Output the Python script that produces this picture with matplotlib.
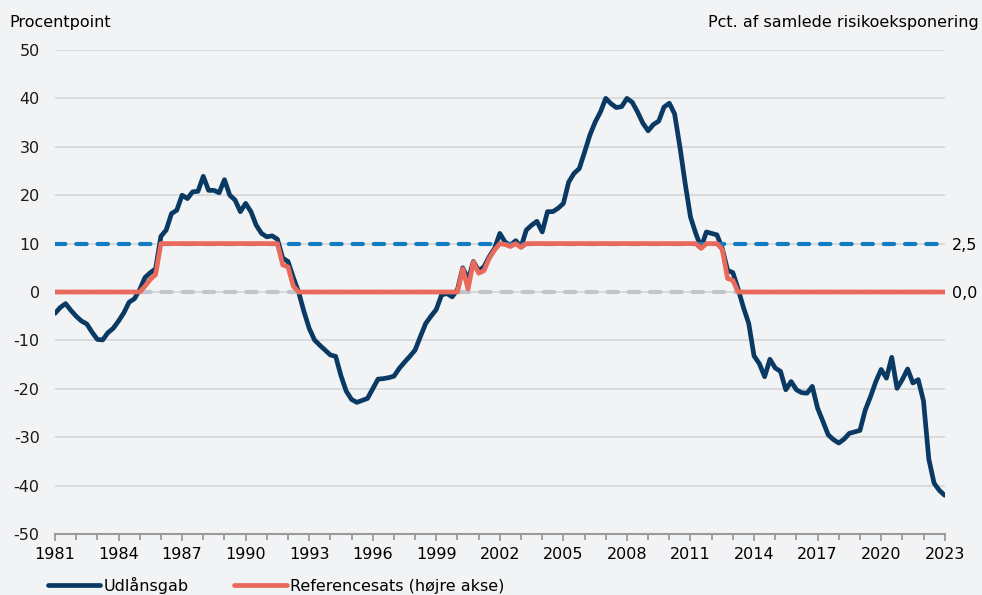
import numpy as np
import matplotlib
matplotlib.use("Agg")
import matplotlib.pyplot as plt
from matplotlib.ticker import MultipleLocator

# Udlånsgab, quarterly 1981Q1 - 2023Q1 (procentpoint)
gap = [
    -4.4, -3.2, -2.4, -3.8,   -5.0, -6.0, -6.6, -8.3,      # 1981-82
    -9.8, -9.9, -8.4, -7.5,   -6.0, -4.3, -2.1, -1.4,      # 1983-84
    0.5, 3.0, 4.0, 4.8,       11.5, 12.8, 16.2, 16.9,      # 1985-86
    20.0, 19.3, 20.7, 20.8,   23.9, 21.0, 21.0, 20.5,      # 1987-88
    23.2, 20.0, 19.0, 16.6,   18.3, 16.6, 13.8, 12.1,      # 1989-90
    11.4, 11.6, 10.9, 7.0,    6.3, 3.0, 0.0, -4.0,         # 1991-92
    -7.5, -9.9, -11.0, -12.0, -13.0, -13.3, -17.3, -20.5,  # 1993-94
    -22.2, -22.8, -22.4, -22.0, -20.0, -18.0, -17.9, -17.7,  # 1995-96
    -17.4, -15.8, -14.5, -13.3, -12.0, -9.2, -6.5, -5.0,   # 1997-98
    -3.6, -0.6, -0.3, -1.0,   0.5, 5.0, 2.5, 6.3,          # 1999-2000
    4.4, 5.2, 7.3, 9.0,       12.1, 10.3, 9.7, 10.6,       # 2001-02
    9.3, 12.8, 13.8, 14.6,    12.4, 16.6, 16.6, 17.3,      # 2003-04
    18.3, 22.7, 24.5, 25.5,   28.9, 32.4, 35.1, 37.2,      # 2005-06
    40.0, 38.9, 38.1, 38.3,   40.0, 39.2, 37.2, 34.9,      # 2007-08
    33.3, 34.6, 35.3, 38.2,   39.0, 36.8, 30.0, 22.4,      # 2009-10
    15.5, 12.1, 9.2, 12.4,    12.1, 11.8, 9.0, 4.5,        # 2011-12
    4.0, 0.6, -3.2, -6.5,     -13.2, -14.8, -17.5, -13.9,  # 2013-14
    -15.7, -16.4, -20.2, -18.5, -20.2, -20.8, -20.9, -19.5,  # 2015-16
    -24.0, -26.7, -29.5, -30.5, -31.2, -30.4, -29.2, -28.9,  # 2017-18
    -28.6, -24.4, -21.6, -18.5, -16.0, -17.8, -13.5, -19.9,  # 2019-20
    -18.1, -15.9, -18.8, -18.1, -22.5, -34.5, -39.5, -41.0,  # 2021-22
    -42.0,                                                  # 2023
]

# Referencesats, quarterly 1981Q1 - 2023Q1 (pct. af samlede risikoeksponering)
ref_rate = [
    0.0, 0.0, 0.0, 0.0,   0.0, 0.0, 0.0, 0.0,      # 1981-82
    0.0, 0.0, 0.0, 0.0,   0.0, 0.0, 0.0, 0.0,      # 1983-84
    0.0, 0.3, 0.65, 0.9,  2.5, 2.5, 2.5, 2.5,      # 1985-86
    2.5, 2.5, 2.5, 2.5,   2.5, 2.5, 2.5, 2.5,      # 1987-88
    2.5, 2.5, 2.5, 2.5,   2.5, 2.5, 2.5, 2.5,      # 1989-90
    2.5, 2.5, 2.5, 1.4,   1.3, 0.3, 0.0, 0.0,      # 1991-92
    0.0, 0.0, 0.0, 0.0,   0.0, 0.0, 0.0, 0.0,      # 1993-94
    0.0, 0.0, 0.0, 0.0,   0.0, 0.0, 0.0, 0.0,      # 1995-96
    0.0, 0.0, 0.0, 0.0,   0.0, 0.0, 0.0, 0.0,      # 1997-98
    0.0, 0.0, 0.0, 0.0,   0.0, 1.2, 0.15, 1.55,    # 1999-2000
    0.97, 1.1, 1.74, 2.17, 2.5, 2.45, 2.35, 2.5,   # 2001-02
    2.3, 2.5, 2.5, 2.5,   2.5, 2.5, 2.5, 2.5,      # 2003-04
    2.5, 2.5, 2.5, 2.5,   2.5, 2.5, 2.5, 2.5,      # 2005-06
    2.5, 2.5, 2.5, 2.5,   2.5, 2.5, 2.5, 2.5,      # 2007-08
    2.5, 2.5, 2.5, 2.5,   2.5, 2.5, 2.5, 2.5,      # 2009-10
    2.5, 2.5, 2.25, 2.5,  2.5, 2.5, 2.2, 0.7,      # 2011-12
    0.6, 0.0, 0.0, 0.0,   0.0, 0.0, 0.0, 0.0,      # 2013-14
    0.0, 0.0, 0.0, 0.0,   0.0, 0.0, 0.0, 0.0,      # 2015-16
    0.0, 0.0, 0.0, 0.0,   0.0, 0.0, 0.0, 0.0,      # 2017-18
    0.0, 0.0, 0.0, 0.0,   0.0, 0.0, 0.0, 0.0,      # 2019-20
    0.0, 0.0, 0.0, 0.0,   0.0, 0.0, 0.0, 0.0,      # 2021-22
    0.0,                                          # 2023
]

buffer_max = 2.5   # blue dashed guide (right axis)
x_ticks = [1981, 1984, 1987, 1990, 1993, 1996, 1999, 2002, 2005, 2008, 2011, 2014, 2017, 2020, 2023]
left_ticks = [-50, -40, -30, -20, -10, 0, 10, 20, 30, 40, 50]
right_ticks = [0.0, 2.5]
right_labels = ["0,0", "2,5"]

NAVY = "#0a3a64"
RED = "#e9695a"
BLUE = "#127cc2"
LIGHTGREY = "#bfc7cc"
BG = "#f1f3f5"

quarters = 1981 + np.arange(len(gap)) * 0.25

plt.rcParams["font.family"] = ["DejaVu Sans"]
plt.rcParams["font.size"] = 11.5
plt.rcParams["axes.unicode_minus"] = False

fig = plt.figure(figsize=(9.82, 5.95), dpi=100, facecolor=BG)
ax = fig.add_axes([0.056, 0.1025, 0.906, 0.8135])
ax.set_facecolor(BG)

ax.set_xlim(1981, 2023)
ax.set_ylim(-50, 50)
ax.set_yticks(left_ticks)
ax.set_xticks(x_ticks)
ax.xaxis.set_minor_locator(MultipleLocator(1))
ax.grid(axis="y", color="#d6d8da", lw=1.3, zorder=0)
for s in ["top", "right", "left"]:
    ax.spines[s].set_visible(False)
ax.spines["bottom"].set_color("#9a9a9a")
ax.spines["bottom"].set_linewidth(1.5)
ax.tick_params(axis="y", length=0, pad=11, labelcolor="#1a1a1a")
ax.tick_params(axis="x", which="major", length=5, width=1.3, color="#9a9a9a", pad=4)
ax.tick_params(axis="x", which="minor", length=4, width=1.3, color="#9a9a9a")

ax2 = ax.twinx()
ax2.set_ylim(-12.5, 12.5)
ax2.set_yticks(right_ticks)
ax2.set_yticklabels(right_labels)
ax2.tick_params(axis="y", length=0, pad=5)
for s in ax2.spines.values():
    s.set_visible(False)

# guides
ax2.plot([1981, 2023], [buffer_max, buffer_max], color=BLUE, lw=3,
         dashes=(2.5, 2.6), dash_capstyle="round", zorder=1)
ax2.plot([1981, 2023], [0, 0], color=LIGHTGREY, lw=3,
         dashes=(2.5, 2.6), dash_capstyle="round", zorder=1)

ax.plot(quarters, gap, color=NAVY, lw=3.4, solid_joinstyle="round",
        solid_capstyle="round", zorder=3, label="Udlånsgab")
ax2.plot(quarters, ref_rate, color=RED, lw=3.4, solid_joinstyle="round",
         solid_capstyle="round", zorder=4, label="Referencesats (højre akse)")

fig.text(0.01, 0.963, "Procentpoint", ha="left", va="center", fontsize=11.5)
fig.text(0.997, 0.963, "Pct. af samlede risikoeksponering", ha="right", va="center", fontsize=11.5)

h1, l1 = ax.get_legend_handles_labels()
h2, l2 = ax2.get_legend_handles_labels()
fig.legend(h1 + h2, l1 + l2, loc="lower left", bbox_to_anchor=(0.034, -0.022),
           ncol=2, frameon=False, handlelength=3.3, handletextpad=0.2,
           columnspacing=2.85, fontsize=11.5)

fig.savefig("out.png", dpi=100, facecolor=BG)
